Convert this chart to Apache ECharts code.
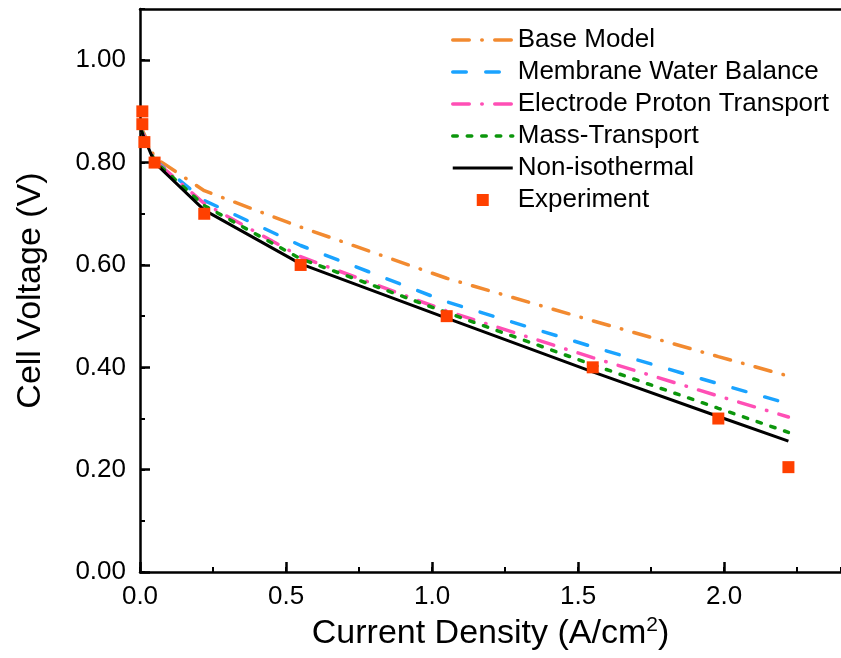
<!DOCTYPE html>
<html>
<head>
<meta charset="utf-8">
<script src="https://cdn.jsdelivr.net/npm/echarts@6/dist/echarts.min.js"></script>
<style>html,body{margin:0;padding:0;background:#fff}#c{width:841px;height:658px}</style>
</head>
<body>
<div id="c"></div>
<script>
// Model curves share the same current density grid
const modelX = [0.003, 0.05, 0.22, 0.55, 1.05, 1.55, 1.98, 2.22];
const baseModel = [0.870, 0.810, 0.745, 0.674, 0.574, 0.491, 0.421, 0.383];
const membraneWater = [0.866, 0.805, 0.726, 0.638, 0.528, 0.440, 0.368, 0.329];
const electrodeProton = [0.866, 0.804, 0.720, 0.616, 0.510, 0.419, 0.344, 0.303];
const massTransport = [0.865, 0.803, 0.716, 0.612, 0.507, 0.405, 0.320, 0.273];
const nonIsothermal = [0.864, 0.800, 0.707, 0.602, 0.496, 0.391, 0.304, 0.256];
// Experimental data
const expX = [0.008, 0.008, 0.015, 0.05, 0.22, 0.55, 1.05, 1.55, 1.98, 2.22];
const expY = [0.900, 0.875, 0.840, 0.800, 0.700, 0.600, 0.500, 0.400, 0.300, 0.205];
const seriesNames = ['Base Model', 'Membrane Water Balance', 'Electrode Proton Transport', 'Mass-Transport', 'Non-isothermal', 'Experiment'];

const pair = (xs, ys) => xs.map((x, i) => [x, ys[i]]);
const FONT = 'Liberation Sans';

const lineSeries = (name, ys, color, dash, width) => ({
  name, type: 'line', data: pair(modelX, ys), symbol: 'none', showSymbol: false,
  lineStyle: { color, width, type: dash, cap: dash === 'solid' ? 'butt' : 'round' },
  itemStyle: { color }, z: 3, animation: false
});

const legendData = seriesNames.map((n, i) => i < 5
  ? { name: n, itemStyle: { opacity: 0 } }
  : { name: n, icon: 'path://M0,0M60,12M24,0L36,0L36,12L24,12Z' });

const chart = echarts.init(document.getElementById('c'), null, { renderer: 'canvas' });
chart.setOption({
  animation: false,
  backgroundColor: '#fff',
  textStyle: { fontFamily: FONT },
  grid: { left: 140, top: 9, right: 0, bottom: 84.5, containLabel: false },
  legend: {
    left: 446, top: 22, orient: 'vertical', padding: 5,
    itemWidth: 60, itemHeight: 12, itemGap: 6, symbolKeepAspect: true,
    lineStyle: { width: 'inherit' },
    data: legendData,
    textStyle: { fontFamily: FONT, fontSize: 26, color: '#000', lineHeight: 26 }
  },
  xAxis: [
    {
      type: 'value', min: 0, max: 2.4, interval: 0.5, position: 'bottom',
      name: 'Current Density (A/cm{sup|2})', nameLocation: 'middle', nameGap: 40,
      nameTextStyle: { fontFamily: FONT, fontSize: 34, color: '#000', lineHeight: 38,
        rich: { sup: { fontFamily: FONT, fontSize: 21, verticalAlign: 'top', lineHeight: 20, color: '#000' } } },
      axisLine: { show: true, onZero: false, lineStyle: { color: '#000', width: 2.5 } },
      axisTick: { show: true, inside: true, length: 10, lineStyle: { color: '#000', width: 2.5 } },
      axisLabel: { fontFamily: FONT, fontSize: 26, color: '#000', margin: 12, showMaxLabel: false,
        formatter: v => v.toFixed(1) },
      splitLine: { show: false }
    },
    {
      type: 'value', min: 0, max: 2.4, position: 'top',
      axisLine: { show: true, onZero: false, lineStyle: { color: '#000', width: 2.5 } },
      axisTick: { show: false }, axisLabel: { show: false }, splitLine: { show: false }
    },
    {
      type: 'value', min: 0, max: 2.4, interval: 0.25, position: 'bottom',
      axisLine: { show: false, onZero: false },
      axisTick: { show: true, inside: true, length: 5, lineStyle: { color: '#000', width: 2 } },
      axisLabel: { show: false }, splitLine: { show: false }
    }
  ],
  yAxis: [
    {
      type: 'value', min: 0, max: 1.1, interval: 0.2, position: 'left',
      name: 'Cell Voltage (V)', nameLocation: 'middle', nameGap: 92,
      nameTextStyle: { fontFamily: FONT, fontSize: 34, color: '#000' },
      axisLine: { show: true, onZero: false, lineStyle: { color: '#000', width: 2.5 } },
      axisTick: { show: true, inside: true, length: 10, lineStyle: { color: '#000', width: 2.5 } },
      axisLabel: { fontFamily: FONT, fontSize: 26, color: '#000', margin: 14, showMaxLabel: false,
        formatter: v => v.toFixed(2) },
      splitLine: { show: false }
    },
    {
      type: 'value', min: 0, max: 1.1, interval: 0.1, position: 'left',
      axisLine: { show: false, onZero: false },
      axisTick: { show: true, inside: true, length: 5, lineStyle: { color: '#000', width: 2 } },
      axisLabel: { show: false }, splitLine: { show: false }
    }
  ],
  series: [
    lineSeries(seriesNames[0], baseModel, '#f28a30', [16.5, 12.5, 0.5, 12.5], 3.5),
    lineSeries(seriesNames[1], membraneWater, '#1aa3ff', [13.5, 19.5], 3.5),
    lineSeries(seriesNames[2], electrodeProton, '#ff4fb5', [16.5, 12.5, 0.5, 12.5], 3.5),
    lineSeries(seriesNames[3], massTransport, '#0c960c', [4.5, 10], 3.5),
    lineSeries(seriesNames[4], nonIsothermal, '#000000', 'solid', 3),
    {
      name: seriesNames[5], type: 'scatter', data: pair(expX, expY),
      symbol: 'rect', symbolSize: 12, symbolKeepAspect: true,
      itemStyle: { color: '#ff4000', opacity: 1 }, z: 5, animation: false
    }
  ]
});
</script>
</body>
</html>
